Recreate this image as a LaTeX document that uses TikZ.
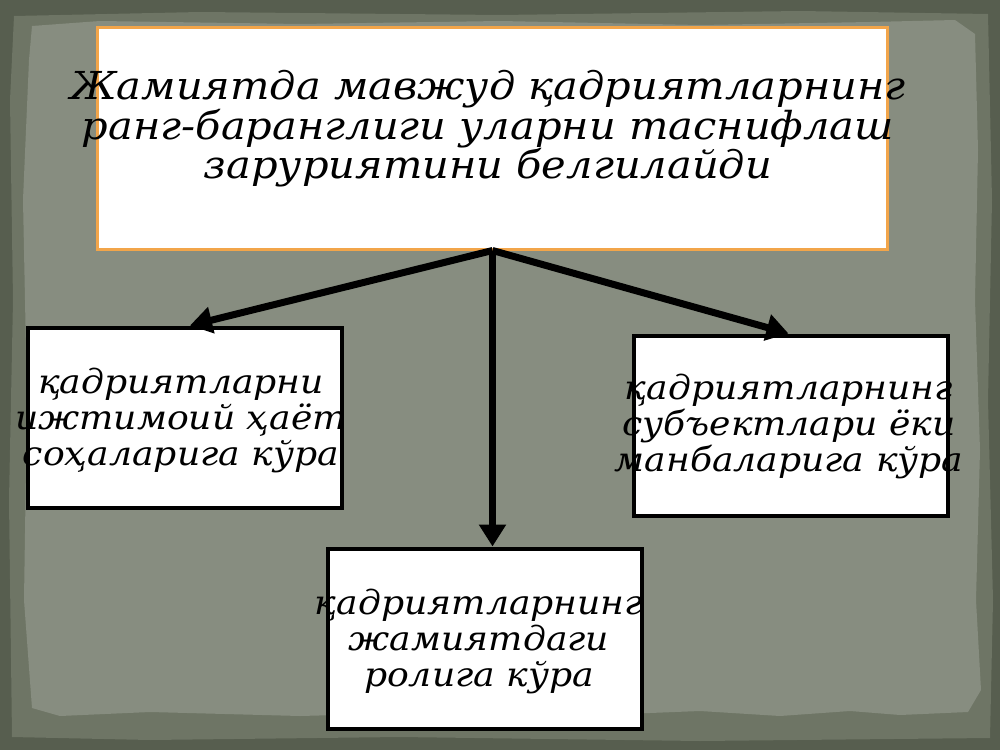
\documentclass[tikz,border=0pt]{standalone}
\usepackage{fontspec}
\usetikzlibrary{arrows.meta}
\newfontfamily\cyr{DejaVu Serif}[FakeStretch=1.08]
\definecolor{bgdark}{HTML}{575E4F}
\definecolor{bgmid}{HTML}{6E7565}
\definecolor{bginner}{HTML}{878D80}
\definecolor{orangeedge}{HTML}{F2A54A}
\tikzset{
  topbox/.style={draw=orangeedge, line width=3bp, fill=white, inner sep=0pt},
  subbox/.style={draw=black, line width=4bp, fill=white, inner sep=0pt,
                 minimum width=314bp, minimum height=180bp},
  bigtext/.style={align=center, inner sep=0pt, font=\cyr\itshape\fontsize{38.5bp}{39.5bp}\selectfont},
  smalltext/.style={align=center, inner sep=0pt, font=\cyr\itshape\fontsize{33.5bp}{36bp}\selectfont},
  conn/.style={line width=7bp, draw=black, -{Triangle[length=22bp,width=26bp]}}
}
\begin{document}
\begin{tikzpicture}[x=1bp,y=-1bp]
\useasboundingbox (0,0) rectangle (1000,750);
% background
\fill[bgdark] (0,0) rectangle (1000,750);
\fill[bgmid] (14,16) -- (200,12) -- (500,15) -- (800,11) -- (988,14) -- (992,200) -- (988,400) -- (993,600) -- (990,738) -- (700,741) -- (400,737) -- (150,740) -- (12,737) -- (9,500) -- (13,300) -- (10,100) -- cycle;
\fill[bginner] (32,26) -- (100,21) -- (300,24) -- (500,21) -- (700,25) -- (870,22) -- (955,20) -- (975,34) -- (978,150) -- (975,300) -- (980,450) -- (976,600) -- (981,690) -- (968,712) -- (900,715) -- (850,711) -- (780,716) -- (700,711) -- (600,715) -- (450,712) -- (300,716) -- (150,712) -- (60,716) -- (32,708) -- (24,600) -- (27,400) -- (23,200) -- (29,60) -- cycle;
% boxes
\node[topbox, minimum width=789bp, minimum height=221bp] (top) at (492.5,138.5) {};
\node[subbox] (lbox) at (185,417.5) {};
\node[subbox] (rbox) at (790.5,425.5) {};
\node[subbox] (bbox) at (484.5,638.5) {};
% texts
\node[bigtext] (toptxt) at (488,129) {Жамиятда мавжуд қадриятларнинг\\ранг-баранглиги уларни таснифлаш\\заруриятини белгилайди};
\node[smalltext] (ltxt) at (181,420) {қадриятларни\\ижтимоий ҳаёт\\соҳаларига кўра};
\node[smalltext] (rtxt) at (789,426) {қадриятларнинг\\субъектлари ёки\\манбаларига кўра};
\node[smalltext] (btxt) at (479,641) {қадриятларнинг\\жамиятдаги\\ролига кўра};
% connectors
\draw[conn] (top.south) -- ([xshift=5bp]lbox.north);
\draw[conn] (top.south) -- ([xshift=-2bp]rbox.north);
\draw[conn] (top.south) -- (top.south |- bbox.north);
\end{tikzpicture}
\end{document}
